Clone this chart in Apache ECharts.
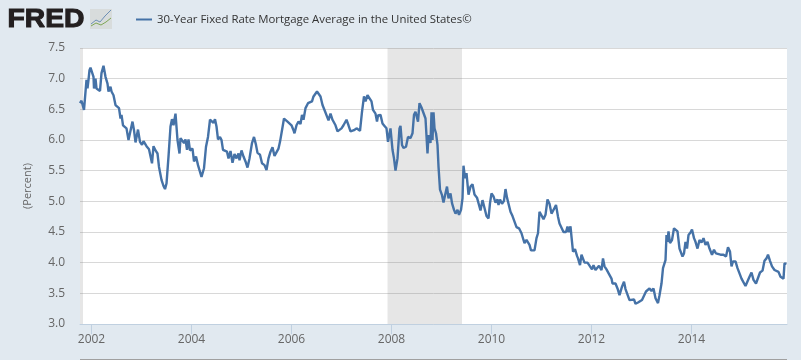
<!DOCTYPE html>
<html>
<head>
<meta charset="utf-8">
<title>30-Year Fixed Rate Mortgage Average</title>
<style>
    html, body { margin: 0; padding: 0; background: #e1e9f0; }
    #chart { width: 801px; height: 360px; }
</style>
<script src="https://cdn.jsdelivr.net/npm/echarts@6/dist/echarts.min.js"></script>
</head>
<body>
<div id="chart"></div>
<script>
const SERIES_NAME = '30-Year Fixed Rate Mortgage Average in the United States©';
const AXIS_NAME = '(Percent)';
const YEAR_TICKS = [2002, 2004, 2006, 2008, 2010, 2012, 2014];
const RECESSIONS = [[2001.77, 2001.83], [2007.92, 2009.41]];

/* Decimal year against percent. */
const years = [
    2001.77, 2001.80, 2001.82, 2001.85, 2001.88, 2001.90, 2001.92, 2001.94, 2001.96, 2001.98,
    2002.01, 2002.04, 2002.05, 2002.08, 2002.10, 2002.13, 2002.17, 2002.20, 2002.24, 2002.28,
    2002.32, 2002.34, 2002.38, 2002.40, 2002.44, 2002.48, 2002.52, 2002.55, 2002.58, 2002.60,
    2002.63, 2002.66, 2002.70, 2002.74, 2002.78, 2002.82, 2002.85, 2002.88, 2002.93, 2002.97,
    2003.01, 2003.04, 2003.10, 2003.15, 2003.21, 2003.24, 2003.28, 2003.32, 2003.35, 2003.40,
    2003.44, 2003.47, 2003.50, 2003.54, 2003.58, 2003.61, 2003.64, 2003.68, 2003.72, 2003.76,
    2003.78, 2003.81, 2003.85, 2003.88, 2003.91, 2003.94, 2003.97, 2004.02, 2004.05, 2004.09,
    2004.13, 2004.17, 2004.20, 2004.22, 2004.25, 2004.29, 2004.33, 2004.37, 2004.41, 2004.44,
    2004.47, 2004.50, 2004.53, 2004.57, 2004.60, 2004.63, 2004.67, 2004.71, 2004.74, 2004.78,
    2004.82, 2004.86, 2004.90, 2004.94, 2004.96, 2005.00, 2005.04, 2005.08, 2005.12, 2005.16,
    2005.21, 2005.25, 2005.29, 2005.32, 2005.37, 2005.41, 2005.46, 2005.50, 2005.54, 2005.58,
    2005.62, 2005.66, 2005.70, 2005.74, 2005.77, 2005.81, 2005.85, 2005.89, 2005.92, 2005.95,
    2006.00, 2006.04, 2006.06, 2006.10, 2006.14, 2006.18, 2006.21, 2006.24, 2006.28, 2006.33,
    2006.37, 2006.41, 2006.44, 2006.48, 2006.51, 2006.55, 2006.58, 2006.62, 2006.66, 2006.70,
    2006.74, 2006.78, 2006.82, 2006.84, 2006.88, 2006.92, 2006.96, 2007.00, 2007.04, 2007.10,
    2007.14, 2007.18, 2007.25, 2007.30, 2007.37, 2007.41, 2007.45, 2007.48, 2007.52, 2007.56,
    2007.60, 2007.63, 2007.68, 2007.71, 2007.73, 2007.78, 2007.82, 2007.86, 2007.90, 2007.93,
    2007.98, 2008.02, 2008.05, 2008.08, 2008.12, 2008.16, 2008.18, 2008.21, 2008.24, 2008.29,
    2008.33, 2008.38, 2008.42, 2008.45, 2008.48, 2008.53, 2008.56, 2008.60, 2008.64, 2008.68,
    2008.72, 2008.74, 2008.77, 2008.78, 2008.80, 2008.82, 2008.84, 2008.86, 2008.89, 2008.92,
    2008.94, 2008.97, 2009.01, 2009.04, 2009.08, 2009.11, 2009.14, 2009.18, 2009.21, 2009.25,
    2009.28, 2009.32, 2009.35, 2009.39, 2009.42, 2009.44, 2009.47, 2009.50, 2009.54, 2009.58,
    2009.62, 2009.66, 2009.71, 2009.73, 2009.78, 2009.82, 2009.86, 2009.90, 2009.94, 2009.97,
    2010.00, 2010.04, 2010.08, 2010.12, 2010.14, 2010.17, 2010.21, 2010.25, 2010.28, 2010.31,
    2010.34, 2010.38, 2010.42, 2010.45, 2010.50, 2010.55, 2010.60, 2010.64, 2010.66, 2010.70,
    2010.74, 2010.76, 2010.79, 2010.83, 2010.86, 2010.90, 2010.93, 2010.96, 2011.00, 2011.04,
    2011.08, 2011.12, 2011.16, 2011.20, 2011.24, 2011.29, 2011.33, 2011.36, 2011.40, 2011.44,
    2011.49, 2011.52, 2011.54, 2011.58, 2011.60, 2011.63, 2011.67, 2011.71, 2011.73, 2011.77,
    2011.80, 2011.83, 2011.86, 2011.92, 2011.97, 2012.01, 2012.04, 2012.08, 2012.12, 2012.15,
    2012.20, 2012.23, 2012.26, 2012.30, 2012.34, 2012.40, 2012.42, 2012.48, 2012.52, 2012.56,
    2012.61, 2012.65, 2012.68, 2012.72, 2012.76, 2012.80, 2012.85, 2012.88, 2012.93, 2012.97,
    2013.01, 2013.05, 2013.09, 2013.13, 2013.16, 2013.20, 2013.24, 2013.28, 2013.33, 2013.36,
    2013.40, 2013.43, 2013.48, 2013.50, 2013.52, 2013.54, 2013.57, 2013.61, 2013.65, 2013.69,
    2013.72, 2013.76, 2013.80, 2013.82, 2013.85, 2013.88, 2013.91, 2013.94, 2013.98, 2014.01,
    2014.05, 2014.08, 2014.12, 2014.16, 2014.20, 2014.24, 2014.28, 2014.32, 2014.36, 2014.41,
    2014.45, 2014.49, 2014.53, 2014.58, 2014.64, 2014.69, 2014.73, 2014.77, 2014.80, 2014.83,
    2014.88, 2014.92, 2014.96, 2015.00, 2015.04, 2015.08, 2015.12, 2015.16, 2015.20, 2015.24,
    2015.29, 2015.33, 2015.37, 2015.42, 2015.46, 2015.50, 2015.53, 2015.57, 2015.61, 2015.66,
    2015.70, 2015.74, 2015.78, 2015.84, 2015.86, 2015.90
];
const rates = [
    6.60, 6.64, 6.66, 6.49, 6.52, 6.98, 6.84, 6.98, 7.14, 7.18,
    7.15, 7.03, 6.84, 7.00, 6.84, 6.84, 6.80, 7.09, 7.21, 7.03,
    6.92, 6.79, 6.87, 6.79, 6.73, 6.57, 6.57, 6.52, 6.35, 6.41,
    6.24, 6.27, 6.19, 6.00, 5.97, 6.30, 6.16, 5.96, 6.17, 5.97,
    5.92, 5.98, 5.90, 5.85, 5.62, 5.90, 5.83, 5.78, 5.56, 5.35,
    5.25, 5.20, 5.29, 5.73, 6.22, 6.34, 6.24, 6.43, 6.00, 5.78,
    6.03, 6.05, 5.95, 6.01, 5.84, 6.01, 5.83, 5.86, 5.65, 5.73,
    5.59, 5.58, 5.40, 5.37, 5.54, 5.89, 6.05, 6.33, 6.32, 6.28,
    6.34, 6.22, 6.01, 6.05, 6.00, 5.84, 5.81, 5.81, 5.70, 5.82,
    5.63, 5.77, 5.70, 5.78, 5.67, 5.83, 5.73, 5.65, 5.55, 5.70,
    5.95, 6.05, 5.92, 5.79, 5.76, 5.62, 5.59, 5.51, 5.70, 5.81,
    5.88, 5.74, 5.72, 5.86, 5.97, 6.16, 6.35, 6.37, 6.30, 6.33,
    6.24, 6.16, 6.11, 6.24, 6.30, 6.26, 6.41, 6.33, 6.52, 6.60,
    6.60, 6.63, 6.71, 6.68, 6.79, 6.79, 6.71, 6.57, 6.49, 6.46,
    6.32, 6.43, 6.33, 6.30, 6.24, 6.14, 6.12, 6.19, 6.24, 6.33,
    6.24, 6.14, 6.16, 6.19, 6.15, 6.46, 6.71, 6.63, 6.73, 6.73,
    6.63, 6.49, 6.43, 6.30, 6.40, 6.41, 6.27, 6.23, 6.19, 5.97,
    6.19, 5.84, 5.70, 5.50, 5.70, 6.19, 6.23, 5.92, 5.87, 5.89,
    6.05, 6.03, 6.11, 6.41, 6.46, 6.30, 6.60, 6.53, 6.52, 6.35,
    5.78, 6.08, 6.05, 5.95, 6.45, 6.00, 6.45, 6.19, 6.11, 5.92,
    5.57, 5.19, 5.10, 4.98, 5.13, 5.24, 5.05, 5.13, 4.97, 4.86,
    4.80, 4.86, 4.78, 4.86, 5.05, 5.58, 5.38, 5.46, 5.11, 5.24,
    5.28, 5.11, 5.06, 5.05, 4.85, 5.02, 4.89, 4.76, 4.72, 4.97,
    5.13, 5.08, 4.98, 5.03, 4.94, 5.03, 4.96, 5.01, 5.20, 5.06,
    5.06, 4.83, 4.76, 4.78, 4.58, 4.56, 4.48, 4.37, 4.32, 4.37,
    4.38, 4.29, 4.20, 4.23, 4.20, 4.40, 4.48, 4.83, 4.85, 4.71,
    4.78, 5.03, 4.96, 4.80, 4.86, 4.94, 4.75, 4.64, 4.61, 4.50,
    4.50, 4.59, 4.50, 4.59, 4.42, 4.18, 4.22, 4.11, 4.07, 3.96,
    4.13, 4.10, 4.00, 4.00, 3.94, 3.89, 3.96, 3.88, 3.88, 3.95,
    3.88, 4.07, 3.94, 3.89, 3.83, 3.74, 3.66, 3.66, 3.58, 3.47,
    3.61, 3.69, 3.57, 3.55, 3.39, 3.42, 3.40, 3.33, 3.35, 3.36,
    3.39, 3.42, 3.53, 3.54, 3.58, 3.54, 3.58, 3.42, 3.34, 3.47,
    3.66, 3.91, 4.04, 4.45, 4.34, 4.51, 4.32, 4.37, 4.56, 4.56,
    4.51, 4.23, 4.26, 4.10, 4.15, 4.34, 4.23, 4.45, 4.49, 4.54,
    4.40, 4.34, 4.23, 4.37, 4.33, 4.40, 4.29, 4.34, 4.23, 4.13,
    4.21, 4.15, 4.15, 4.13, 4.13, 4.10, 4.25, 4.18, 3.94, 4.02,
    4.02, 3.91, 3.88, 3.74, 3.74, 3.62, 3.61, 3.77, 3.84, 3.72,
    3.66, 3.65, 3.84, 3.87, 4.03, 4.07, 4.13, 4.03, 3.94, 3.88,
    3.91, 3.85, 3.77, 3.74, 3.99, 3.98
];

const LABEL_COLOR = '#666666';
const LINE_COLOR = '#4572a7';
const FONT = '"Open Sans", sans-serif';

const chart = echarts.init(document.getElementById('chart'), null, {renderer: 'canvas'});

let option = {
    backgroundColor: '#e1e9f0',
    animation: false,
    textStyle: {fontFamily: FONT},
    color: [LINE_COLOR],
    legend: {
        left: 131,
        top: 9,
        itemWidth: 16,
        itemHeight: 2,
        itemGap: 5,
        icon: 'rect',
        textStyle: {color: '#333333', fontSize: 11.4, fontFamily: FONT},
        data: [SERIES_NAME]
    },
    grid: {
        left: 80,
        right: 14,
        top: 48,
        bottom: 36,
        show: true,
        backgroundColor: '#ffffff',
        borderWidth: 0
    },
    xAxis: {
        type: 'value',
        min: 2001.77,
        max: 2015.91,
        splitLine: {show: false},
        axisLine: {onZero: false, lineStyle: {color: '#c0d0e0', width: 1}},
        axisTick: {show: true, length: 10, customValues: YEAR_TICKS, lineStyle: {color: '#c0d0e0'}},
        axisLabel: {
            customValues: YEAR_TICKS,
            color: LABEL_COLOR,
            fontSize: 12,
            margin: 10,
            formatter: function (v) { return String(Math.round(v)); }
        }
    },
    yAxis: {
        type: 'value',
        min: 3,
        max: 7.5,
        interval: 0.5,
        name: AXIS_NAME,
        nameLocation: 'middle',
        nameGap: 47,
        nameTextStyle: {color: LABEL_COLOR, fontSize: 11},
        axisLine: {show: false},
        axisTick: {show: false},
        axisLabel: {
            color: LABEL_COLOR,
            fontSize: 12,
            margin: 15,
            formatter: function (v) { return v.toFixed(1); }
        },
        splitLine: {lineStyle: {color: '#d8d8d8', width: 1}}
    },
    series: [{
        name: SERIES_NAME,
        type: 'line',
        symbol: 'none',
        lineStyle: {width: 2.4, color: LINE_COLOR},
        data: years.map(function (y, i) { return [y, rates[i]]; }),
        markArea: {
            silent: true,
            itemStyle: {color: 'rgba(128,128,128,0.2)'},
            data: RECESSIONS.map(function (r) { return [{xAxis: r[0]}, {xAxis: r[1]}]; })
        }
    }],
    graphic: [
        {
            type: 'text', left: 7, top: 7, scaleX: 1.13,
            style: {
                text: 'FRED', fill: '#231f20', stroke: '#231f20', lineWidth: 1,
                font: 'bold 25px "Liberation Sans", sans-serif'
            }
        },
        {
            type: 'rect', shape: {x: 90, y: 9, width: 22, height: 20},
            style: {fill: '#d8dcdc'}
        },
        {
            type: 'polyline', shape: {points: [[91, 24], [96, 20], [100, 22], [105, 16], [111, 10]]},
            style: {stroke: '#6d8fb5', fill: 'none', lineWidth: 1}
        },
        {
            type: 'polyline', shape: {points: [[91, 26], [96, 23], [101, 25], [106, 22], [111, 18]]},
            style: {stroke: '#7fa656', fill: 'none', lineWidth: 1}
        },
        {
            type: 'rect', shape: {x: 80, y: 359, width: 707, height: 1},
            style: {fill: '#a0a0a0'}
        }
    ]
};
chart.setOption(option);
</script>
</body>
</html>
